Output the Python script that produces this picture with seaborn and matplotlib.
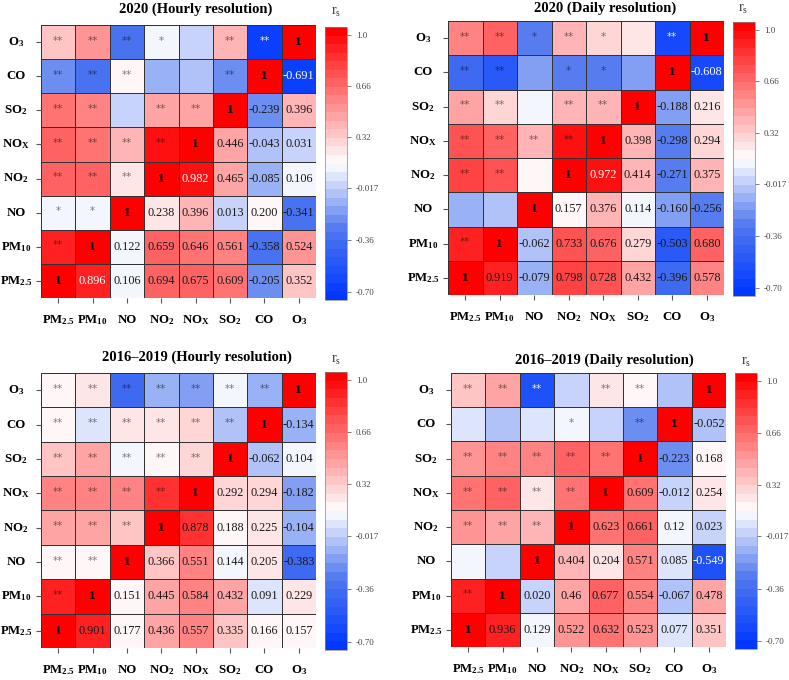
import numpy as np
import pandas as pd
import matplotlib
matplotlib.use("Agg")
import matplotlib.pyplot as plt
import seaborn as sns
from matplotlib.colors import LinearSegmentedColormap

plt.rcParams['font.family'] = ['Liberation Serif', 'DejaVu Serif']
plt.rcParams['mathtext.fontset'] = 'custom'
plt.rcParams['mathtext.rm'] = 'Liberation Serif:bold'
plt.rcParams['mathtext.bf'] = 'Liberation Serif:bold'
plt.rcParams['mathtext.it'] = 'Liberation Serif:bold:italic'
plt.rcParams['mathtext.sf'] = 'Liberation Serif'

# ---------------- data ----------------
variables = ['PM2.5', 'PM10', 'NO', 'NO2', 'NOx', 'SO2', 'CO', 'O3']
tick_labels = [r'PM$_{2.5}$', r'PM$_{10}$', 'NO', r'NO$_2$', r'NO$_\mathrm{X}$',
               r'SO$_2$', 'CO', r'O$_3$']

titles = ['2020 (Hourly resolution)', '2020 (Daily resolution)',
          '2016–2019 (Hourly resolution)', '2016–2019 (Daily resolution)']

# upper-triangle Spearman r, pair order: (PM2.5: PM10..O3), (PM10: NO..O3), ... (CO: O3)
r_2020_hourly = ['0.896', '0.106', '0.694', '0.675', '0.609', '-0.205', '0.352',
                 '0.122', '0.659', '0.646', '0.561', '-0.358', '0.524',
                 '0.238', '0.396', '0.013', '0.200', '-0.341',
                 '0.982', '0.465', '-0.085', '0.106',
                 '0.446', '-0.043', '0.031',
                 '-0.239', '0.396',
                 '-0.691']
sig_2020_hourly = ['**', '*', '**', '**', '**', '**', '**',
                   '*', '**', '**', '**', '**', '**',
                   '**', '**', '', '**', '**',
                   '**', '**', '', '*',
                   '**', '', '',
                   '**', '**',
                   '**']

r_2020_daily = ['0.919', '-0.079', '0.798', '0.728', '0.432', '-0.396', '0.578',
                '-0.062', '0.733', '0.676', '0.279', '-0.503', '0.680',
                '0.157', '0.376', '0.114', '-0.160', '-0.256',
                '0.972', '0.414', '-0.271', '0.375',
                '0.398', '-0.298', '0.294',
                '-0.188', '0.216',
                '-0.608']
sig_2020_daily = ['**', '', '**', '**', '**', '**', '**',
                  '', '**', '**', '**', '**', '**',
                  '', '**', '', '', '*',
                  '**', '**', '*', '**',
                  '**', '*', '*',
                  '', '',
                  '**']

r_1619_hourly = ['0.901', '0.177', '0.436', '0.557', '0.335', '0.166', '0.157',
                 '0.151', '0.445', '0.584', '0.432', '0.091', '0.229',
                 '0.366', '0.551', '0.144', '0.205', '-0.383',
                 '0.878', '0.188', '0.225', '-0.104',
                 '0.292', '0.294', '-0.182',
                 '-0.062', '0.104',
                 '-0.134']
sig_1619_hourly = ['**'] * 28

r_1619_daily = ['0.936', '0.129', '0.522', '0.632', '0.523', '0.077', '0.351',
                '0.020', '0.46', '0.677', '0.554', '-0.067', '0.478',
                '0.404', '0.204', '0.571', '0.085', '-0.549',
                '0.623', '0.661', '0.12', '0.023',
                '0.609', '-0.012', '0.254',
                '-0.223', '0.168',
                '-0.052']
sig_1619_daily = ['**', '', '**', '**', '**', '', '**',
                  '', '**', '**', '**', '', '**',
                  '**', '**', '**', '', '**',
                  '**', '**', '*', '',
                  '**', '', '**',
                  '**', '**',
                  '']

panel_values = [r_2020_hourly, r_2020_daily, r_1619_hourly, r_1619_daily]
panel_sigs = [sig_2020_hourly, sig_2020_daily, sig_1619_hourly, sig_1619_daily]
white_pairs = [[('PM2.5', 'PM10')], [], [], []]

cbar_ticks = [1.0, 0.66, 0.32, -0.017, -0.36, -0.70]
cbar_ticklabels = ['1.0', '0.66', '0.32', '-0.017', '-0.36', '-0.70']

# ---------------- style / layout ----------------
VMIN, VMAX = -0.755, 1.05
cmap = LinearSegmentedColormap.from_list(
    'bwr_rs', [(0.0, '#0038FF'), (0.25, '#5078EE'), (0.5, '#FFFFFF'),
               (0.75, '#FF7F7F'), (1.0, '#FF0000')], N=32)

W, H = 789, 680
heat_px = [(41, 25, 316, 298), (448, 21, 724, 295), (41, 373, 316, 648), (451, 373, 726, 647)]
cbar_px = [(325, 27, 347, 300), (733, 22, 755, 296), (325, 372, 347, 650), (735, 373, 757, 649)]
title_px = [(196, 9), (605, 8), (197, 357), (604, 360)]
rs_px = [(336, 12), (743, 9), (336, 360), (746, 362)]


def rect(box):
    x0, y0, x1, y1 = box
    return [x0 / W, 1 - y1 / H, (x1 - x0) / W, (y1 - y0) / H]


def build(vals, sigs):
    n = len(variables)
    M = np.eye(n)
    lab = np.empty((n, n), dtype=object)
    k = 0
    for i in range(n):
        lab[i, i] = '1'
        for j in range(i + 1, n):
            v = float(vals[k])
            M[i, j] = M[j, i] = v
            lab[i, j] = vals[k]
            lab[j, i] = sigs[k]
            k += 1
    return M[::-1], lab[::-1]


fig = plt.figure(figsize=(W / 100, H / 100), dpi=100)

for p in range(4):
    M, lab = build(panel_values[p], panel_sigs[p])
    row_names = variables[::-1]
    df = pd.DataFrame(M, index=row_names, columns=variables)
    ax = fig.add_axes(rect(heat_px[p]))
    cax = fig.add_axes(rect(cbar_px[p]))
    sns.heatmap(df, ax=ax, cmap=cmap, vmin=VMIN, vmax=VMAX, cbar_ax=cax,
                annot=lab, fmt='', linewidths=0.55, linecolor='#333333',
                annot_kws=dict(fontsize=8.8, family='Liberation Serif'))
    wp = set(white_pairs[p])
    for t in ax.texts:
        x, y = t.get_position()
        c, r = int(x), int(y)
        a = variables.index(row_names[r])
        b = variables.index(variables[c])
        v = M[r, c]
        pair = (variables[min(a, b)], variables[max(a, b)])
        if a == b:
            t.set_fontweight('bold')
            t.set_fontsize(9.5)
            t.set_color('black')
        elif b < a:
            if v < -0.52:
                t.set_color('white')
                t.set_alpha(0.9)
            else:
                t.set_color('black')
                t.set_alpha(0.5)
            t.set_fontfamily('DejaVu Sans')
            t.set_fontsize(7.5)
            t.set_y(y - 0.04)
        else:
            white = (v < -0.52) or (v > 0.95) or (pair in wp)
            t.set_color('white' if white else '#1a1a1a')
    ax.set_xticklabels(tick_labels, rotation=0, fontsize=9.2, fontweight='bold', va='baseline')
    ax.set_yticklabels(tick_labels[::-1], rotation=0, fontsize=9.2, fontweight='bold', ha='center')
    ax.tick_params(axis='x', length=3.5, width=0.8, color='#555555', pad=14.5)
    ax.tick_params(axis='y', length=3.5, width=0.8, color='#555555', pad=14.5)
    ax.set_xlabel('')
    ax.set_ylabel('')

    cax.set_yticks(cbar_ticks)
    cax.set_yticklabels(cbar_ticklabels)
    cax.tick_params(labelsize=6.5, length=3, width=0.6, color='#666666', labelcolor='#444444')
    cb = ax.collections[0].colorbar
    cb.outline.set_linewidth(0.5)
    cb.outline.set_edgecolor('#888888')

    tx, ty = title_px[p]
    fig.text(tx / W, 1 - ty / H, titles[p], ha='center', va='center',
             fontsize=10.5, fontweight='bold')
    rx, ry = rs_px[p]
    fig.text(rx / W, 1 - ry / H, r'r$_\mathsf{s}$', ha='center', va='center',
             fontsize=10, fontweight='normal', color='#333333')

fig.savefig('out.png', dpi=100)
